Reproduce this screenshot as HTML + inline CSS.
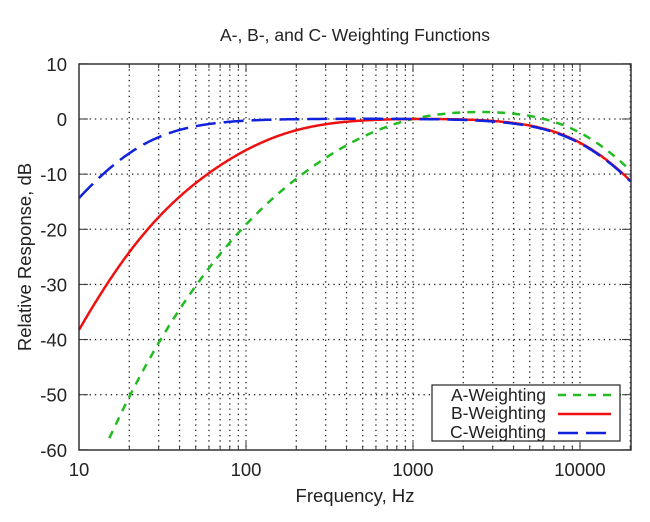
<!DOCTYPE html>
<html><head><meta charset="utf-8"><style>
body{margin:0;background:#fff;}
svg{display:block;font-family:"Liberation Sans",sans-serif;}
</style></head><body>
<svg id="s" width="650" height="522" viewBox="0 0 650 522" xmlns="http://www.w3.org/2000/svg">
<rect width="650" height="522" fill="#fff"/>
<text x="355" y="41" font-size="17.5" text-anchor="middle" fill="#222">A-, B-, and C- Weighting Functions</text>
<text x="355" y="502" font-size="18.5" text-anchor="middle" fill="#222">Frequency, Hz</text>
<text transform="translate(31,257) rotate(-90)" font-size="18.5" text-anchor="middle" fill="#222">Relative Response, dB</text>
<g id="grid"></g>
<g id="curves"></g>
<rect x="79" y="64" width="552" height="386" fill="none" stroke="#333" stroke-width="1.5"/>
<g id="lab" font-size="18.5" fill="#222"></g>
<rect x="432" y="385" width="188" height="56" fill="#fff" stroke="#222" stroke-width="1.2"/>
<g font-size="17.5" fill="#222" text-anchor="end">
<text x="546" y="401">A-Weighting</text>
<text x="546" y="419">B-Weighting</text>
<text x="546" y="438">C-Weighting</text>
</g>
<line x1="558" y1="395" x2="611" y2="395" stroke="#22bb22" stroke-width="2.5" stroke-dasharray="8,7"/>
<line x1="558" y1="414" x2="611" y2="414" stroke="#ee1111" stroke-width="2.5"/>
<line x1="558" y1="433" x2="611" y2="433" stroke="#1122dd" stroke-width="2.5" stroke-dasharray="20,8"/>
</svg>
<script>
const NS="http://www.w3.org/2000/svg";
const X=f=>79+167*Math.log10(f/10), Y=d=>119-5.514*d;
function el(p,t,a,txt){const e=document.createElementNS(NS,t);for(const k in a)e.setAttribute(k,a[k]);if(txt)e.textContent=txt;p.appendChild(e);return e;}
const g=document.getElementById('grid'),lab=document.getElementById('lab');
for(let dec=10;dec<=10000;dec*=10)for(let m=1;m<10;m++){const f=dec*m;if(f>20000)break;const x=X(f);
 if(f>10) el(g,'line',{x1:x,y1:64,x2:x,y2:450,stroke:'#222','stroke-width':1.3,'stroke-dasharray':'1.3,4'});
 el(g,'line',{x1:x,y1:450,x2:x,y2:m==1?442:446,stroke:'#333'});el(g,'line',{x1:x,y1:64,x2:x,y2:m==1?72:68,stroke:'#333'});}
for(let d=10;d>=-60;d-=10){const y=Y(d);
 if(d<10&&d>-60) el(g,'line',{x1:79,y1:y,x2:631,y2:y,stroke:'#222','stroke-width':1.3,'stroke-dasharray':'1.3,4'});
 el(g,'line',{x1:79,y1:y,x2:88,y2:y,stroke:'#333'});el(g,'line',{x1:631,y1:y,x2:622,y2:y,stroke:'#333'});
 el(lab,'text',{x:67,y:y+7,'text-anchor':'end'},String(d));}
[10,100,1000,10000].forEach(f=>el(lab,'text',{x:X(f),y:476,'text-anchor':'middle'},String(f)));
const a=12194*12194,s=x=>x*x;
const A=f=>20*Math.log10(a*f**4/((s(f)+s(20.6))*Math.sqrt((s(f)+s(107.7))*(s(f)+s(737.9)))*(s(f)+a)))+2.0;
const B=f=>20*Math.log10(a*f**3/((s(f)+s(20.6))*Math.sqrt(s(f)+s(158.5))*(s(f)+a)))+0.17;
const C=f=>20*Math.log10(a*f*f/((s(f)+s(20.6))*(s(f)+a)))+0.06;
const cv=document.getElementById('curves');
function path(fn,col,da,fmin){let d='';for(let i=0;i<=600;i++){const f=10*Math.pow(2000,i/600);if(f<fmin)continue;const v=fn(f);if(v<-60)continue;d+=(d?'L':'M')+X(f).toFixed(1)+','+Y(v).toFixed(1);}
 const o={d:d,fill:'none',stroke:col,'stroke-width':2.5};if(da)o['stroke-dasharray']=da;el(cv,'path',o);}
path(A,'#22bb22','8,7',15);path(B,'#ee1111',null,10);path(C,'#1122dd','20,8',10);
</script>
</body></html>
